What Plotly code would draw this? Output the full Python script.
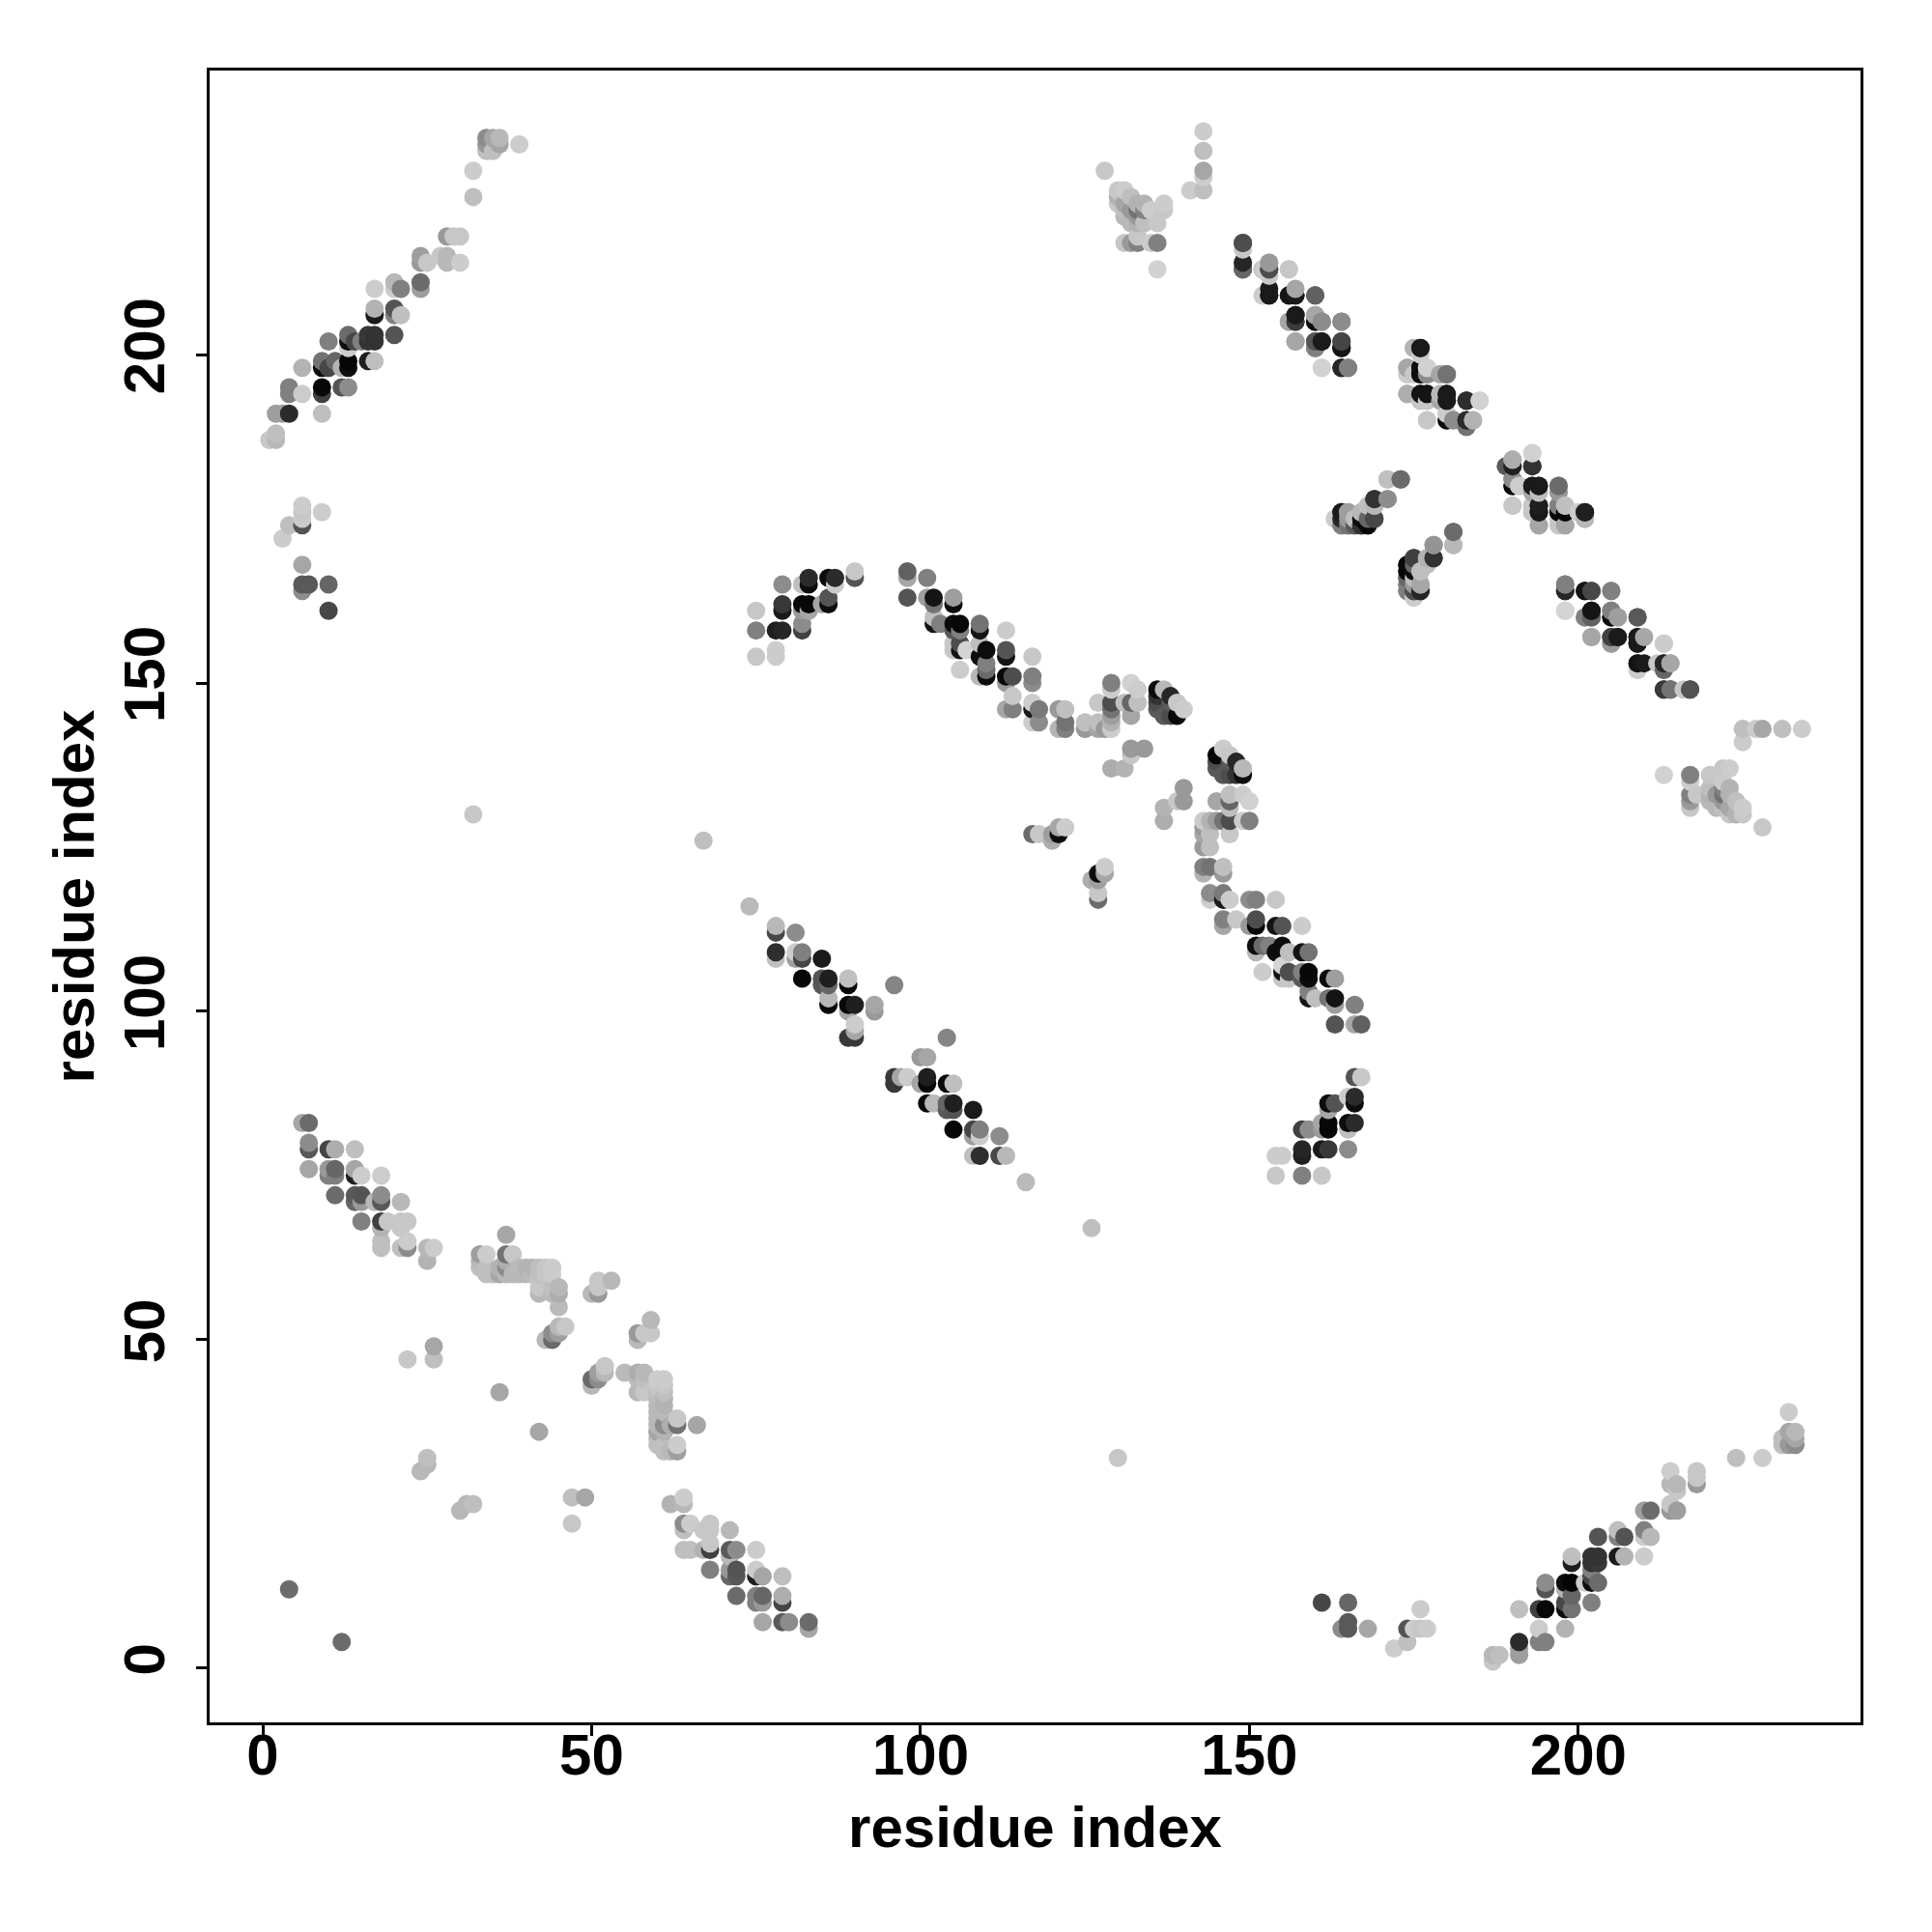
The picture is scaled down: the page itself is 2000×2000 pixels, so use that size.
import plotly.graph_objects as go

# contacts as (residue i, residue j, grey level 0=black..1=white); the map is symmetric
band_a = [
(1,187,.78),(2,187,.72),(2,188,.75),(2,191,.62),(3,191,.62),(4,191,.17),(9,191,.75),
(4,195,.5),(4,194,.5),(6,194,.8),(6,198,.7),(9,195,.03),(9,194,.25),(12,195,.33),(13,195,.55),
(9,199,.45),(9,198,.05),(10,198,.28),(11,199,.4),(12,198,.7),(13,199,.02),(13,198,.05),
(16,199,.12),(17,199,.75),(10,202,.5),(13,203,.42),(13,202,.05),(13,201,.8),(14,202,.28),
(15,202,.5),(16,203,.22),(16,202,.2),(17,203,.2),(17,202,.2),(20,203,.33),
(17,206,.1),(17,207,.7),(20,207,.33),(20,206,.5),(21,206,.75),(17,210,.8),
(20,211,.72),(20,210,.8),(21,210,.5),(24,211,.42),(24,210,.62),(24,215,.62),(24,214,.6),(25,214,.78),
(27,215,.78),(28,215,.72),(28,214,.72),(30,214,.8),(28,218,.6),(29,218,.78),(30,218,.78),
(32,224,.75),(32,228,.8),(34,233,.55),(34,232,.6),(34,231,.75),(35,233,.65),(35,231,.75),(36,233,.72),(36,232,.65),(39,232,.8),
]
band_b = [
(3,172,.8),(4,174,.75),(6,164,.55),(6,165,.35),(6,168,.65),(6,174,.33),(6,175,.8),(6,176,.78),(6,177,.8),
(7,165,.35),(9,176,.8),(10,161,.28),(10,165,.4),(4,12,.42),(32,130,.78),(67,126,.75),
]
band_c = [
(75,161,.78),(75,158,.5),(75,154,.78),(78,158,.12),(79,158,.15),(78,155,.8),(78,154,.8),(79,165,.55),(79,162,.22),(79,161,.1),
(82,159,.55),(82,158,.25),(82,162,.03),(83,162,.03),(83,161,.65),(82,161,.6),(82,165,.75),(83,166,.17),(83,165,.05),
(86,166,.05),(87,166,.17),(87,165,.8),(86,163,.33),(86,162,.05),(85,162,.65),(90,167,.78),(90,166,.33),
]
band_d = [
(98,167,.38),(98,166,.65),(98,163,.33),(101,166,.5),(101,163,.62),(102,163,.08),(102,162,.45),(105,163,.62),(105,162,.05),
(102,160,.75),(102,159,.08),(103,159,.5),(105,159,.05),(106,159,.03),(106,158,.5),(105,158,.35),(109,159,.45),(109,158,.08),(113,158,.8),
(105,156,.78),(105,155,.78),(106,156,.3),(106,155,.08),(107,155,.83),(109,156,.75),(109,154,.05),(110,155,.05),(110,153,.5),
(113,155,.33),(113,154,.08),(117,154,.78),(106,152,.8),(109,151,.72),(110,152,.42),(110,151,.05),(113,151,.03),(114,151,.3),(113,150,.6),
(117,151,.5),(117,150,.55),(114,148,.78),(113,146,.65),(114,146,.5),(117,147,.8),(117,146,.1),(118,146,.48),(117,144,.8),(118,144,.55),
(121,146,.6),(122,146,.75),(121,143,.7),(122,144,.45),(122,143,.5),(125,144,.75),(125,143,.6),(127,147,.78),(127,144,.75),(127,143,.65),
(128,143,.6),(129,150,.5),(129,149,.8),(129,147,.3),(129,146,.45),(129,145,.62),(129,144,.7),(129,143,.8),
(131,147,.75),(132,150,.82),(132,147,.4),(132,145,.65),(133,149,.8),(133,147,.75),
(136,149,.05),(136,148,.2),(136,147,.3),(136,146,.35),(137,149,.72),(137,145,.35),(138,148,.15),(138,147,.35),(138,145,.3),(139,147,.78),(139,145,.03),(140,146,.8),
(132,140,.6),(134,140,.6),(132,139,.78),(129,137,.68),(131,137,.7),
(117,127,.42),(118,127,.78),(120,126,.68),(120,127,.62),(121,127,.05),(121,128,.65),(122,128,.8),
]
band_e = [
(74,116,.73),(78,113,.72),(78,112,.28),(81,112,.55),(78,109,.18),(78,108,.75),(81,109,.8),(81,108,.62),(82,109,.5),(82,108,.27),(85,108,.1),
(82,105,.03),(85,105,.33),(86,105,.12),(86,104,.4),(85,104,.35),(89,105,.75),(89,104,.03),(86,102,.72),(86,101,.03),(89,101,.03),(90,101,.12),(89,100,.65),
(93,101,.65),(93,100,.6),(96,104,.52),(90,98,.8),(90,97,.65),(89,96,.22),(90,96,.22),
]
band_g = [
(6,83,.65),(7,83,.42),(7,80,.55),(7,79,.35),(10,79,.27),(11,79,.68),(14,79,.75),(7,76,.65),(10,76,.6),(11,76,.4),(10,75,.5),(11,75,.5),
(14,76,.65),(14,75,.12),(15,75,.8),(18,75,.8),(11,72,.42),(14,72,.35),(15,72,.33),(14,71,.4),(15,71,.6),(17,71,.72),(18,72,.55),(18,71,.35),(21,71,.72),
(15,68,.5),(18,68,.25),(19,68,.78),(18,67,.7),(21,68,.78),(22,68,.78),(21,67,.78),(18,65,.75),(18,64,.75),(21,64,.75),(22,65,.8),(22,64,.55),
(25,64,.72),(26,64,.8),(25,62,.7),(37,66,.65),(33,63,.62),(34,63,.8),(33,62,.72),(33,61,.75),(34,61,.75),(34,60,.75),(37,63,.45),(38,63,.78),
(35,60,.75),(36,60,.65),(36,61,.7),(37,62,.68),(37,61,.55),(37,60,.72),(38,60,.72),(39,61,.73),(39,60,.72),(40,61,.7),(40,60,.72),(41,61,.7),(41,60,.73),(42,61,.75),(42,60,.75),(43,61,.78),(43,60,.78),(44,61,.8),(44,60,.8),
(42,59,.78),(42,58,.78),(42,57,.72),(44,58,.75),(45,58,.72),(45,57,.68),(44,57,.73),(45,55,.73),
(43,50,.72),(44,50,.42),(44,51,.55),(45,52,.72),(46,52,.78),(45,51,.62),(51,59,.78),(53,59,.72),(50,57,.72),(51,57,.6),(51,58,.78),
(26,49,.65),(26,47,.75),(22,47,.78),(36,42,.65),(24,30,.72),(25,31,.72),(25,32,.75),
]
band_h = [
(128,228,.78),(143,234,.8),(143,231,.75),(143,228,.65),(143,227,.8),(143,225,.75),(141,225,.8),
(130,225,.78),(131,225,.8),(130,224,.7),(130,223,.78),(131,222,.75),(131,223,.65),(132,224,.75),(132,222,.6),(131,221,.72),(132,220,.72),
(133,223,.7),(133,222,.45),(133,221,.6),(133,220,.7),(134,223,.7),(134,222,.5),(134,220,.75),(135,222,.8),(136,220,.78),(137,223,.8),(137,222,.78),
(131,217,.78),(132,217,.6),(133,217,.5),(133,218,.78),(135,217,.8),(136,217,.5),(136,213,.82),
]
band_k = [
(149,217,.32),(149,216,.78),(149,214,.45),(149,213,.22),(152,213,.4),(153,214,.65),(153,213,.15),(153,212,.78),(153,210,.1),(153,209,.08),(152,209,.8),(156,213,.8),
(156,209,.1),(157,210,.65),(157,209,.1),(160,209,.35),(156,205,.6),(157,206,.1),(157,205,.25),(160,206,.62),(160,205,.05),(161,205,.5),(164,205,.5),
(157,202,.65),(160,202,.38),(160,201,.5),(161,202,.08),(164,202,.28),(164,201,.08),(161,198,.83),(164,198,.15),(165,198,.5),
(175,201,.72),(176,201,.12),(174,198,.65),(174,197,.78),(175,197,.78),(176,198,.03),(176,197,.03),(177,198,.75),(177,197,.5),(179,197,.6),(180,197,.42),
(174,194,.65),(176,194,.1),(177,194,.12),(176,193,.78),(177,193,.78),(179,194,.75),(180,194,.1),(180,193,.1),(183,193,.2),(185,193,.82),
(177,190,.78),(180,191,.8),(180,190,.03),(181,190,.55),(183,190,.13),(183,189,.35),(184,190,.68),
(189,183,.45),(190,184,.7),(190,183,.17),(193,185,.82),(193,183,.18),(190,181,.55),(190,180,.05),(191,180,.8),(193,180,.1),(194,180,.1),(194,179,.72),(193,179,.65),
(197,180,.45),(197,179,.65),(190,177,.78),(193,177,.78),(194,177,.08),(194,176,.08),(194,174,.68),(193,176,.78),(197,177,.55),(197,176,.05),(198,177,.82),(198,176,.05),(197,174,.8),(198,174,.65),
(200,176,.8),(201,176,.1),(201,175,.7),
(198,165,.5),(198,164,.15),(198,161,.82),(201,164,.08),(202,164,.27),(205,164,.55),(201,160,.5),(202,161,.1),(202,160,.33),(205,161,.55),(205,160,.05),(206,160,.65),(209,160,.38),
(202,157,.65),(205,157,.23),(206,157,.1),(205,156,.65),(209,157,.1),(209,156,.08),(213,156,.78),(213,153,.3),(213,152,.8),(214,153,.6),(213,149,.4),(214,149,.15),(217,149,.3),(209,153,.1),(209,152,.8),
]
band_m = [
(163,175,.8),(164,176,.15),(164,175,.3),(164,174,.5),(165,176,.65),(165,175,.6),(165,174,.5),(166,175,.75),(166,174,.4),(167,176,.75),(167,174,.03),(168,175,.4),(168,174,.03),
(169,175,.25),(169,177,.7),(169,178,.2),(171,178,.58),(171,181,.72),(173,181,.42),
(174,168,.03),(174,167,.2),(174,166,.35),(174,165,.45),(174,164,.5),(175,169,.28),(175,167,.05),(175,164,.15),(175,163,.8),(176,164,.1),(176,165,.62),(176,167,.72),
(177,168,.75),(177,169,.72),(178,169,.2),(178,171,.55),(181,171,.75),(181,173,.42),
]
x_tick_values = [0, 50, 100, 150, 200]
y_tick_values = [0, 50, 100, 150, 200]
axis_title = "residue index"

contacts = band_a + band_b + band_c + band_d + band_e + band_g + band_h + band_k + band_m
all_pairs = sorted(contacts + [(j, i, g) for i, j, g in contacts], key=lambda p: (p[0], p[1]))
residue_x = [p[0] for p in all_pairs]
residue_y = [p[1] for p in all_pairs]
grey_level = [p[2] for p in all_pairs]

fig = go.Figure(go.Scatter(
    x=residue_x, y=residue_y, mode="markers",
    marker=dict(size=19, color=grey_level, cmin=0, cmax=1,
                colorscale=[[0, "#000000"], [1, "#ffffff"]], line=dict(width=0)),
    hoverinfo="skip",
))
font = dict(family="Liberation Sans", size=60, color="black", weight="bold")
axis = dict(showgrid=False, zeroline=False, showline=True, mirror=True, linecolor="black", linewidth=3,
            ticks="outside", ticklen=11, tickwidth=3, tickcolor="black", tickfont=font)
fig.update_layout(
    width=2000, height=2000, autosize=False, showlegend=False,
    paper_bgcolor="white", plot_bgcolor="white",
    margin=dict(l=209, r=82, t=65, b=225, pad=0),
    font=font,
    xaxis=dict(axis, range=[-8.08, 242.9], tickvals=x_tick_values, ticktext=[str(v) for v in x_tick_values],
               ticklabelstandoff=-32,
               title=dict(text=axis_title, font=font, standoff=21)),
    yaxis=dict(axis, range=[-8.25, 243.25], tickvals=y_tick_values, ticktext=[str(v) for v in y_tick_values],
               tickangle=-90, ticklabelstandoff=9,
               title=dict(text=axis_title, font=font, standoff=0)),
)
fig.write_html("out.html", config={"displayModeBar": False})
